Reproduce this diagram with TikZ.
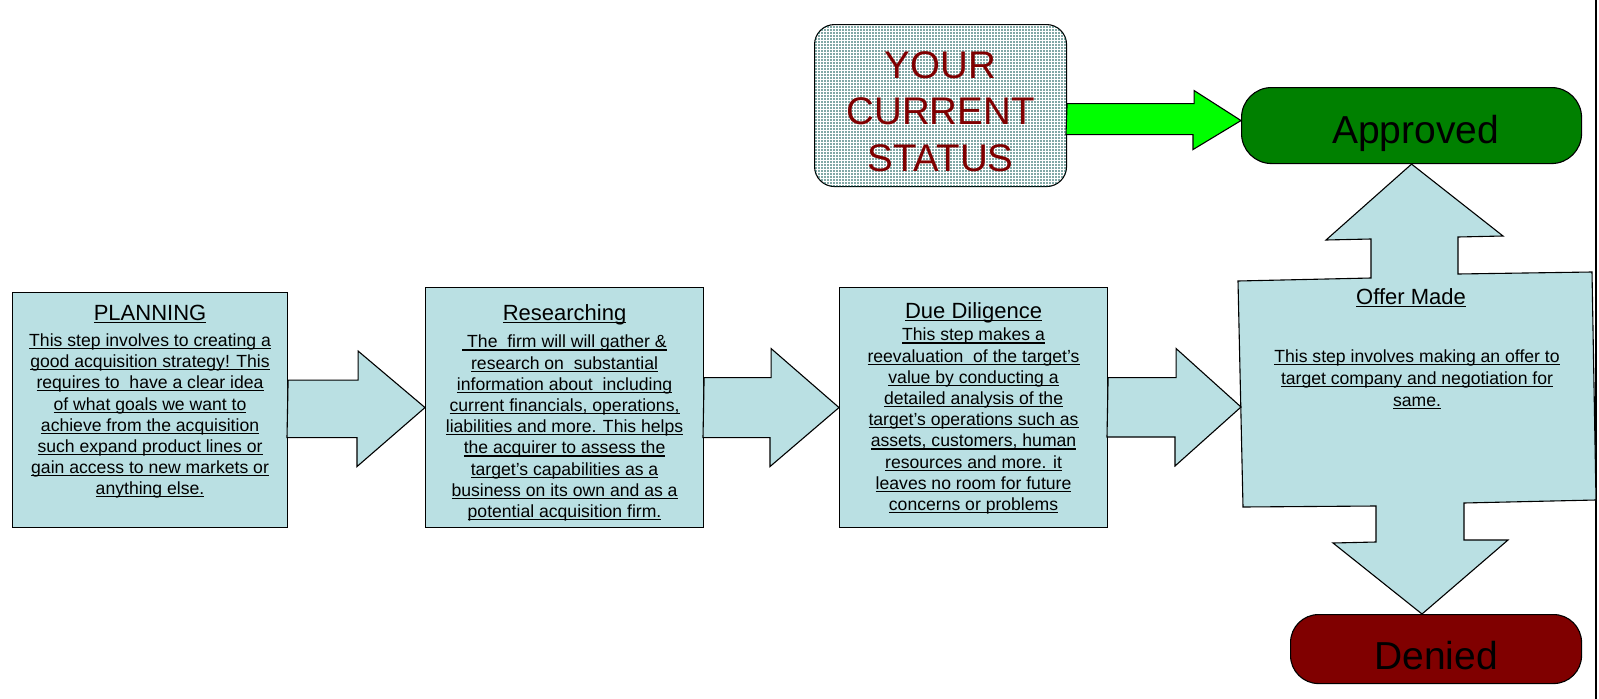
\documentclass[tikz,border=0pt]{standalone}
\usepackage{fontspec}
\setmainfont{Liberation Sans}
\usetikzlibrary{positioning,calc,patterns}

\definecolor{stepfill}{RGB}{186,224,227}
\definecolor{okgreen}{RGB}{0,128,0}
\definecolor{golime}{RGB}{0,255,0}
\definecolor{nored}{RGB}{128,0,0}
\definecolor{dotteal}{RGB}{0,80,75}

\pgfdeclarepatternformonly{statusdots}{\pgfqpoint{-1pt}{-1pt}}{\pgfqpoint{1pt}{1pt}}{\pgfqpoint{3pt}{3pt}}%
  {\pgfpathcircle{\pgfqpoint{0pt}{0pt}}{.85pt}\pgfusepath{fill}}

\newsavebox\ulbox
\newcommand{\ulin}[1]{\sbox\ulbox{#1}\rlap{\rule[-2.6pt]{\wd\ulbox}{1.1pt}}\usebox\ulbox}
\newcommand{\bodyfont}{\fontsize{17.6}{21.2}\selectfont}
\newcommand{\titlefont}{\fontsize{22}{26}\selectfont}

% block arrow from one box to the next
\newcommand{\steparrow}[4]{%
  \filldraw[flow] ([yshift=30pt]#1.east) -- ++(#3,0) -- ++(0,29)
    -- (#2) -- ++(-#4,-59) -- ++(0,29) -- ++(-#3,0) -- cycle;}

\begin{document}
\begin{tikzpicture}[x=1pt,y=1pt,
    stepbox/.style={draw,fill=stepfill,line width=1.1pt,anchor=north west,inner sep=0pt},
    flow/.style={draw,fill=stepfill,line width=1.1pt,line join=miter},
    go/.style={draw,fill=golime,line width=1.1pt,line join=miter},
    pill/.style={draw,line width=1.1pt,anchor=north west,inner sep=0pt},
    steptitle/.style={anchor=north,inner sep=0pt,font=\titlefont},
    steptext/.style={anchor=north,inner sep=0pt,align=center,font=\bodyfont},
    bigword/.style={inner sep=0pt,anchor=base,font=\fontsize{39}{46}\selectfont}]
    \useasboundingbox (0,0) rectangle (1599,-699);
    \draw[line width=2pt] (1595.5,0) -- (1595.5,-699);

    % the three steps
    \node[stepbox,minimum width=275pt,minimum height=235pt] (plan) at (12,-292) {};
    \node[stepbox,minimum width=278pt,minimum height=240pt] (research) at (425,-287) {};
    \node[stepbox,minimum width=268pt,minimum height=240pt] (diligence) at (839,-287) {};

    \node[steptitle,below=13pt of plan.north] (plantitle) {\ulin{PLANNING}};
    \node[steptext,below=41.5pt of plan.north] (plantext) {%
        \ulin{This step involves to creating a}\\
        \ulin{good acquisition strategy! This}\\
        \ulin{requires to\ \ have a clear idea}\\
        \ulin{of what goals we want to}\\
        \ulin{achieve from the acquisition}\\
        \ulin{such expand product lines or}\\
        \ulin{gain access to new markets or}\\
        \ulin{anything else.}};

    \node[steptitle,below=17pt of research.north] (researchtitle) {\ulin{Researching}};
    \node[steptext,below=48pt of research.north] (researchtext) {%
        \ulin{\ The\ \ firm will will gather \&}\\
        \ulin{research on\ \ substantial}\\
        \ulin{information about\ \ including}\\
        \ulin{current financials, operations,}\\
        \ulin{liabilities and more. This helps}\\
        \ulin{the acquirer to assess the}\\
        \ulin{target’s capabilities as a}\\
        \ulin{business on its own and as a}\\
        \ulin{potential acquisition firm.}};

    \node[steptitle,below=15pt of diligence.north] (diligencetitle) {\ulin{Due Diligence}};
    \node[steptext,below=41pt of diligence.north] (diligencetext) {%
        \ulin{This step makes a}\\
        \ulin{reevaluation\ \ of the target’s}\\
        \ulin{value by conducting a}\\
        \ulin{detailed analysis of the}\\
        \ulin{target’s operations such as}\\
        \ulin{assets, customers, human}\\
        \ulin{resources and more. it}\\
        \ulin{leaves no room for future}\\
        \ulin{concerns or problems}};

    % status and outcomes
    \node[pill,fill=white,postaction={pattern=statusdots,pattern color=dotteal},
        rounded corners=20pt,minimum width=252pt,minimum height=162pt] (status) at (814,-24) {};
    \node[anchor=north,inner sep=0pt,align=center,text=nored,
        font=\fontsize{38.5}{46.7}\selectfont,below=27pt of status.north] (statustext)
        {YOUR\\CURRENT\\STATUS};
    \node[pill,fill=okgreen,rounded corners=30pt,minimum width=340pt,minimum height=76pt] (approved) at (1241,-87) {};
    \node[bigword] (approvedtext) at ([xshift=4pt,yshift=-18pt]approved.center) {Approved};
    \node[pill,fill=nored,rounded corners=28pt,minimum width=291pt,minimum height=69pt] (denied) at (1290,-614) {};
    \node[bigword] (deniedtext) at ([yshift=-20.5pt]denied.center) {Denied};

    % offer made, with its two outlets
    \filldraw[flow] (1238,-281) -- (1371,-278) -- (1371,-239) -- (1326,-240) -- (approved.south)
        -- (1503,-236) -- (1458,-237) -- (1458,-274) -- (1592,-272) -- (1596,-500)
        -- (1464,-503) -- (1464,-540) -- (1508,-540) -- (1422,-614) -- (1333,-543)
        -- (1376,-542) -- (1376,-506) -- (1243,-507) -- cycle;
    \coordinate (offerin) at (1241,-407);
    \node[steptitle] (offertitle) at (1411,-288) {\ulin{Offer Made}};
    \node[steptext,font=\fontsize{17.6}{22}\selectfont] (offertext) at (1417,-349.5) {%
        \ulin{This step involves making an offer to}\\
        \ulin{target company and negotiation for}\\
        \ulin{same.}};

    % arrows
    \steparrow{plan}{research.west}{70}{68}
    \steparrow{research}{diligence.west}{67}{69}
    \steparrow{diligence}{offerin}{68}{66}
    \filldraw[go] ([yshift=2pt]status.east) -- ++(127,0) -- ++(0,13)
        -- ([yshift=5pt]approved.west) -- ++(-48,-29) -- ++(0,15) -- ++(-127,0) -- cycle;
\end{tikzpicture}
\end{document}
